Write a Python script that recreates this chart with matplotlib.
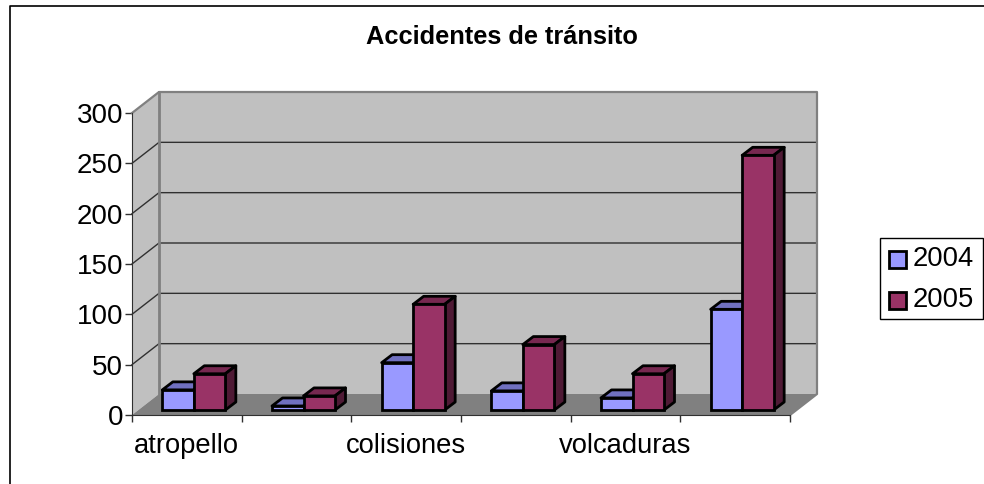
import numpy as np
import matplotlib
matplotlib.use('Agg')
import matplotlib.pyplot as plt
from matplotlib.lines import Line2D
from matplotlib.patches import Polygon, Rectangle

categorias = ['atropello', '', 'colisiones', '', 'volcaduras', '']
serie_2004 = [20, 4, 47, 19, 12, 100]
serie_2005 = [36, 14, 105, 65, 36, 253]
y_ticks = [0, 50, 100, 150, 200, 250, 300]
anios = ['2004', '2005']

W, H = 984, 484
plt.rcParams['font.family'] = ['Liberation Sans', 'DejaVu Sans']

fig = plt.figure(figsize=(W / 100, H / 100), dpi=100)
fig.patch.set_facecolor('white')

# outer frame of the chart: only top and left edges are inside the image
fig.add_artist(Line2D([10 / W, 10 / W, 1], [0, 1 - 5.5 / H, 1 - 5.5 / H], transform=fig.transFigure,
                      color='black', lw=1.2))

# axes = front plane of the 3d box
ax = fig.add_axes([132 / W, 1 - 415 / H, 658 / W, 302 / H])
ax.set_xlim(0, 6)
ax.set_ylim(0, 300)
ax.patch.set_alpha(0)
for s in ax.spines.values():
    s.set_visible(False)

# depth of the box in data units (26px right, 21px up)
px = 6 / 658
py = 300 / 302
dx, dy = 27 * px, 21 * py
top = 300

# side wall, back wall, floor
ax.add_patch(Polygon([(0, 0), (dx, dy), (dx, top + dy), (0, top)], fc='#c0c0c0', ec='none', clip_on=False))
ax.add_patch(Polygon([(dx, dy), (6 + dx, dy), (6 + dx, top + dy), (dx, top + dy)], fc='#c0c0c0', ec='none', clip_on=False))
ax.add_patch(Polygon([(0, 0), (6, 0), (6 + dx, dy), (dx, dy)], fc='#808080', ec='none', clip_on=False))

# gridlines across side and back wall
for v in y_ticks[1:-1]:
    ax.plot([0, dx, 6 + dx], [v, v + dy, v + dy], color='#303030', lw=1, clip_on=False, zorder=2)

# thick grey edges of the walls
ax.plot([0, dx, 6 + dx, 6 + dx, 6], [top, top + dy, top + dy, dy, 0], color='#808080', lw=1.6, clip_on=False, zorder=2)
ax.plot([dx, dx], [dy, top + dy], color='#808080', lw=2, clip_on=False, zorder=2)

# bars
bar_w = 31.5 * px
bdx, bdy = 10.5 * px, 8 * py   # depth of a bar
ox, oy = 7 * px, 5 * py      # bars stand in the middle of the floor
colores = [('#9999ff', '#7070c0', '#50508a'), ('#993366', '#772850', '#4f1a35')]


def bar3d(x0, v, cols):
    y0, y1 = oy, oy + v
    x1 = x0 + bar_w
    lw = 2
    ax.add_patch(Polygon([(x0, y1), (x1, y1), (x1 + bdx, y1 + bdy), (x0 + bdx, y1 + bdy)],
                         fc=cols[1], ec='black', lw=lw, joinstyle='round', clip_on=False, zorder=3))
    ax.add_patch(Polygon([(x1, y0), (x1 + bdx, y0 + bdy), (x1 + bdx, y1 + bdy), (x1, y1)],
                         fc=cols[2], ec='black', lw=lw, joinstyle='round', clip_on=False, zorder=3))
    ax.add_patch(Rectangle((x0, y0), bar_w, v, fc=cols[0], ec='black', lw=lw, clip_on=False, zorder=3))


for i in range(len(categorias)):
    x0 = i + 0.5 - bar_w + ox
    bar3d(x0, serie_2004[i], colores[0])
    bar3d(x0 + bar_w, serie_2005[i], colores[1])

# axes ticks and labels
ax.spines['left'].set_visible(True)
ax.spines['bottom'].set_visible(True)
ax.spines['left'].set_color('#303030')
ax.spines['bottom'].set_color('#303030')
ax.set_yticks(y_ticks)
ax.set_xticks(np.arange(7))
ax.set_xticklabels([])
ax.tick_params(axis='y', length=5, width=1, labelsize=20, pad=1.5, color='#303030')
ax.tick_params(axis='x', length=5, width=1, color='#303030')
for i, c in enumerate(categorias):
    ax.text(i + 0.5, -31, c, ha='center', va='center', fontsize=19.7)

fig.text(502 / W, 1 - 36.5 / H, 'Accidentes de tránsito', ha='center', va='center', fontsize=18.3, fontweight='bold')

# legend box
fig.add_artist(Rectangle((880 / W, 1 - 319 / H), 103 / W, 81 / H, transform=fig.transFigure,
                         fc='white', ec='black', lw=1))
for nombre, col, yc in zip(anios, colores, [259, 300]):
    fig.add_artist(Rectangle((889 / W, 1 - (yc + 8.5) / H), 17 / W, 17 / H, transform=fig.transFigure,
                             fc=col[0], ec='black', lw=2))
    fig.text(913 / W, 1 - yc / H, nombre, ha='left', va='center', fontsize=19.7)

fig.savefig('out.png', dpi=100)
